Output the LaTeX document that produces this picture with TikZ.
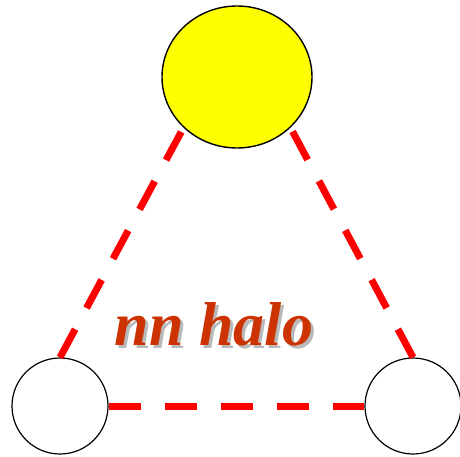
\documentclass[tikz,border=0pt]{standalone}
\usepackage{fontspec}
\setmainfont{Liberation Serif}
\usepackage{tikz}
\usetikzlibrary{shapes.geometric,positioning}
\definecolor{halored}{RGB}{204,51,0}
\definecolor{shadowgray}{RGB}{185,185,185}
\definecolor{coreyellow}{RGB}{255,255,0}
\tikzset{
    core/.style={ellipse, draw=black, fill=coreyellow, line width=1.4pt,
                 minimum width=150pt, minimum height=142pt, inner sep=0pt},
    nucleon/.style={circle, draw=black, line width=1.2pt, minimum size=96pt,
                    inner sep=0pt},
    bond/.style={red, line width=7pt, dash pattern=on 32pt off 24pt},
    halotxt/.style={font=\fontsize{62}{64}\selectfont\bfseries\itshape,
                    inner sep=0pt, anchor=base, text=#1},
}

\begin{document}
\begin{tikzpicture}[x=1pt,y=1pt]
    \useasboundingbox (0,0) rectangle (460,456);
    \node[core] (core) at (237,379) {};
    \node[nucleon] (left) at (60,50) {};
    \node[nucleon] (right) at (413,50) {};
    \draw[bond] (left.north) -- (core.south west);
    \draw[bond] (right.north) -- (core.south east);
    \draw[bond] (left.east) -- (right.west);
    % label with drop shadow
    \node[halotxt=shadowgray] (haloshadow) at (217,108) {nn halo};
    \node[halotxt=halored] (halo) at (214,111) {nn halo};
\end{tikzpicture}
\end{document}
